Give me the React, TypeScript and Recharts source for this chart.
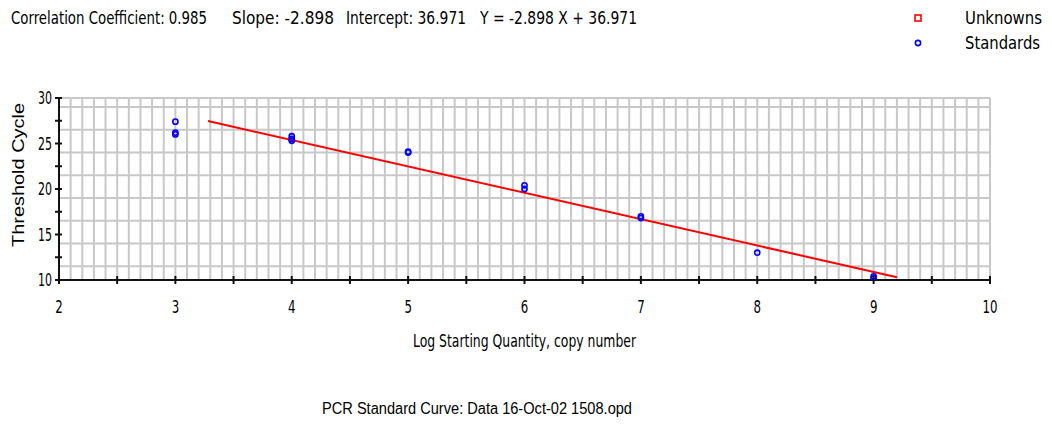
import React from 'react';
import { ScatterChart, Scatter, XAxis, YAxis, CartesianGrid, ReferenceLine, Legend } from 'recharts';

const CORRELATION = 0.985;
const SLOPE = -2.898;
const INTERCEPT = 36.971;

// standards: log starting quantity vs. threshold cycle
const STD_LOG_QTY = [3, 3, 3, 4, 4, 4, 5, 5, 6, 6, 7, 7, 8, 9, 9];
const STD_CT = [27.4, 26.2, 26.0, 25.8, 25.5, 25.3, 24.1, 24.0, 20.4, 20.0, 17.0, 16.8, 13.0, 10.4, 10.2];
const UNKNOWN_LOG_QTY: number[] = [];
const UNKNOWN_CT: number[] = [];

// x-range covered by the fitted line
const FIT_RANGE = [3.28, 9.2];

const X_TICKS = [2, 2.5, 3, 3.5, 4, 4.5, 5, 5.5, 6, 6.5, 7, 7.5, 8, 8.5, 9, 9.5, 10];
const Y_TICKS = [10, 12.5, 15, 17.5, 20, 22.5, 25, 27.5, 30];

const standards = STD_LOG_QTY.map((x, i) => ({ x, y: STD_CT[i] }));
const unknowns = UNKNOWN_LOG_QTY.map((x, i) => ({ x, y: UNKNOWN_CT[i] }));
const fitSegment = FIT_RANGE.map((x) => ({ x, y: SLOPE * x + INTERCEPT }));

// fine grid: every 0.1 on x, offset rows on y
const gridX: number[] = [];
for (let i = 21; i <= 100; i++) gridX.push(i / 10);
const gridY = [11.5, 14, 16.5, 19, 21.5, 24, 26.5, 29, 30];

const NARROW = '"Liberation Sans Narrow", "DejaVu Sans Condensed", "Liberation Sans", sans-serif';
const SANS = '"Liberation Sans", Arial, sans-serif';

const XTick = (props: any) => {
  const { x, y, payload } = props;
  const v = payload.value;
  const label = Number.isInteger(v) ? String(v) : '';
  return (
    <g>
      <line x1={x} x2={x} y1={y - 4} y2={y + 4} stroke="#111" strokeWidth={2} />
      {label && (
        <text x={x} y={y + 33} textAnchor="middle" fontFamily={NARROW} fontSize={17} fill="#000"
          textLength={label.length * 7.5} lengthAdjust="spacingAndGlyphs">
          {label}
        </text>
      )}
    </g>
  );
};

const YTick = (props: any) => {
  const { x, y, payload } = props;
  const v = payload.value;
  const label = v % 5 === 0 ? String(v) : '';
  return (
    <g>
      <line x1={x - 4} x2={x + 3} y1={y} y2={y} stroke="#111" strokeWidth={2} />
      {label && (
        <text x={x - 21} y={y + 6} fontFamily={NARROW} fontSize={17} fill="#000"
          textLength={14} lengthAdjust="spacingAndGlyphs">
          {label}
        </text>
      )}
    </g>
  );
};

const OpenCircle = (props: any) => (
  <circle cx={props.cx} cy={props.cy} r={2.6} fill="none" stroke="#0000ff" strokeWidth={1.6} />
);

const OpenSquare = (props: any) => (
  <rect x={props.cx - 3} y={props.cy - 3} width={6} height={6} fill="#fff" stroke="#ff0000" strokeWidth={1.6} />
);

const LegendBox = () => (
  <svg width={140} height={60}>
    <rect x={3} y={9} width={6} height={6} fill="#fff" stroke="#ff0000" strokeWidth={1.6} />
    <text x={53} y={18} fontFamily={NARROW} fontSize={17} fill="#000" textLength={77} lengthAdjust="spacingAndGlyphs">
      Unknowns
    </text>
    <circle cx={6} cy={37} r={2.6} fill="none" stroke="#0000ff" strokeWidth={1.6} />
    <text x={53} y={43} fontFamily={NARROW} fontSize={17} fill="#000" textLength={75} lengthAdjust="spacingAndGlyphs">
      Standards
    </text>
  </svg>
);

export default function App() {
  return (
    <div style={{ position: 'absolute', left: 0, top: 0, width: 1052, height: 425, background: '#fff' }}>
      <ScatterChart width={1052} height={425} margin={{ top: 98, right: 62, bottom: 0, left: 0 }}>
        <CartesianGrid
          stroke="#c8c8c8"
          strokeWidth={2}
          verticalValues={gridX}
          horizontalValues={gridY}
        />
        <XAxis
          type="number"
          dataKey="x"
          domain={[2, 10]}
          ticks={X_TICKS}
          interval={0}
          height={145}
          tickSize={0}
          tickMargin={0}
          tickLine={false}
          tick={<XTick />}
          axisLine={{ stroke: '#111', strokeWidth: 2 }}
          allowDataOverflow
        />
        <YAxis
          type="number"
          dataKey="y"
          domain={[10, 30]}
          ticks={Y_TICKS}
          interval={0}
          width={59}
          tickSize={0}
          tickMargin={0}
          tickLine={false}
          tick={<YTick />}
          axisLine={{ stroke: '#111', strokeWidth: 2 }}
          allowDataOverflow
        />
        <ReferenceLine segment={fitSegment} stroke="#ff0000" strokeWidth={2} ifOverflow="visible" />
        <Scatter name="Unknowns" data={unknowns} shape={<OpenSquare />} isAnimationActive={false} />
        <Scatter name="Standards" data={standards} shape={<OpenCircle />} isAnimationActive={false} />
        {/* middle/center keeps the legend from shrinking the plot area */}
        <Legend
          layout="horizontal"
          verticalAlign="middle"
          align="center"
          content={<LegendBox />}
          wrapperStyle={{ position: 'absolute', left: 912, top: 6, width: 140, height: 60 }}
        />
      </ScatterChart>
      <svg width={1052} height={425} style={{ position: 'absolute', left: 0, top: 0, pointerEvents: 'none' }}>
        <g fontFamily={NARROW} fontSize={17} fill="#000">
          <text x={11} y={24} textLength={196} lengthAdjust="spacingAndGlyphs">
            {`Correlation Coefficient: ${CORRELATION}`}
          </text>
          <text x={232} y={24} textLength={102} lengthAdjust="spacingAndGlyphs">
            {`Slope: ${SLOPE}`}
          </text>
          <text x={346} y={24} textLength={120} lengthAdjust="spacingAndGlyphs">
            {`Intercept: ${INTERCEPT}`}
          </text>
          <text x={480} y={24} textLength={157} lengthAdjust="spacingAndGlyphs">
            {`Y = ${SLOPE} X + ${INTERCEPT}`}
          </text>
          <text x={524.5} y={347} textAnchor="middle" textLength={223} lengthAdjust="spacingAndGlyphs">
            Log Starting Quantity, copy number
          </text>
        </g>
        <text x={18} y={181} transform="rotate(-90 18 175)" textAnchor="middle" fontFamily={SANS} fontSize={16}
          fill="#000" textLength={144} lengthAdjust="spacingAndGlyphs">
          Threshold Cycle
        </text>
        <text x={322} y={414} fontFamily={SANS} fontSize={16} fill="#000" textLength={310} lengthAdjust="spacingAndGlyphs">
          PCR Standard Curve: Data 16-Oct-02 1508.opd
        </text>
      </svg>
    </div>
  );
}
